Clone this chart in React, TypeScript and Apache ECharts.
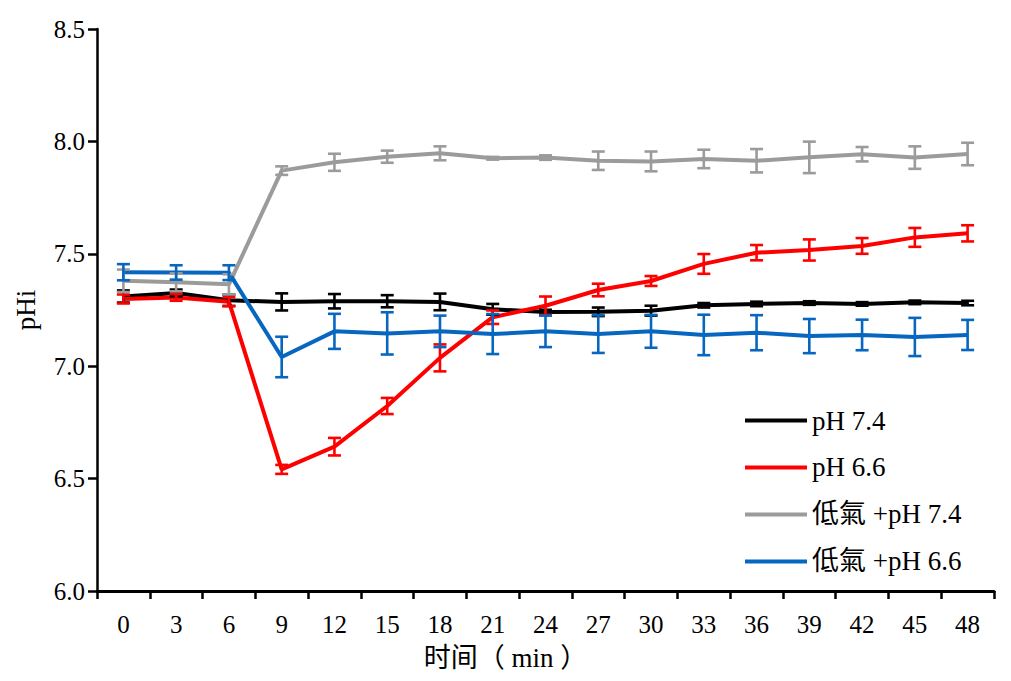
import React, { useEffect, useRef } from "react";
import * as echarts from "echarts";

const categories = ["0", "3", "6", "9", "12", "15", "18", "21", "24", "27", "30", "33", "36", "39", "42", "45", "48"];
const seriesNames = ["pH 7.4", "pH 6.6", "低氣 +pH 7.4", "低氣 +pH 6.6"];
const colors = ["#000000", "#ff0000", "#9b9b9b", "#0766bf"];

const ph74 = [7.31, 7.326, 7.293, 7.286, 7.289, 7.289, 7.286, 7.253, 7.241, 7.242, 7.247, 7.271, 7.277, 7.281, 7.277, 7.284, 7.281];
const ph74Err = [0.027, 0.015, 0.025, 0.038, 0.032, 0.027, 0.037, 0.024, 0.01, 0.019, 0.022, 0.01, 0.01, 0.008, 0.008, 0.008, 0.01];
const ph66 = [7.299, 7.306, 7.287, 6.541, 6.642, 6.823, 7.037, 7.218, 7.269, 7.339, 7.379, 7.455, 7.505, 7.517, 7.535, 7.573, 7.591];
const ph66Err = [0.02, 0.015, 0.02, 0.02, 0.039, 0.036, 0.06, 0.03, 0.041, 0.028, 0.022, 0.044, 0.034, 0.047, 0.035, 0.042, 0.036];
const hypo74 = [7.38, 7.373, 7.364, 7.87, 7.907, 7.932, 7.947, 7.925, 7.928, 7.914, 7.911, 7.922, 7.914, 7.929, 7.943, 7.928, 7.944];
const hypo74Err = [0.05, 0.04, 0.045, 0.019, 0.038, 0.027, 0.031, 0.006, 0.01, 0.041, 0.044, 0.041, 0.052, 0.07, 0.032, 0.05, 0.05];
const hypo66 = [7.418, 7.417, 7.416, 7.041, 7.155, 7.146, 7.155, 7.143, 7.155, 7.143, 7.155, 7.139, 7.149, 7.134, 7.139, 7.13, 7.139];
const hypo66Err = [0.036, 0.032, 0.033, 0.09, 0.078, 0.094, 0.07, 0.089, 0.07, 0.084, 0.073, 0.09, 0.078, 0.076, 0.068, 0.085, 0.067];

const yTicks = { min: 6.0, max: 8.5, interval: 0.5 };

const FONT = "'Liberation Serif', 'Times New Roman', 'Noto Sans CJK TC', serif";
const FONT_SC = "'Liberation Serif', 'Times New Roman', 'Noto Sans CJK SC', serif";

function errorSeries(name: string, values: number[], errs: number[], color: string) {
  return {
    type: "custom",
    name: name + " err",
    z: 3,
    silent: true,
    data: values.map((v, i) => [i, v - errs[i], v + errs[i]]),
    encode: { x: 0, y: [1, 2] },
    renderItem: (_params: any, api: any) => {
      const idx = api.value(0);
      const lo = api.coord([idx, api.value(1)]);
      const hi = api.coord([idx, api.value(2)]);
      const hw = 6.5;
      const style = { stroke: color, lineWidth: 2.6, fill: "none" };
      return {
        type: "group",
        children: [
          { type: "line", shape: { x1: lo[0], y1: lo[1], x2: hi[0], y2: hi[1] }, style },
          { type: "line", shape: { x1: lo[0] - hw, y1: lo[1], x2: lo[0] + hw, y2: lo[1] }, style },
          { type: "line", shape: { x1: hi[0] - hw, y1: hi[1], x2: hi[0] + hw, y2: hi[1] }, style },
        ],
      };
    },
  };
}

export default function App() {
  const ref = useRef<HTMLDivElement>(null);
  useEffect(() => {
    if (!ref.current) return;
    const chart = echarts.init(ref.current, undefined, { renderer: "svg" });
    const values = [ph74, ph66, hypo74, hypo66];
    const errs = [ph74Err, ph66Err, hypo74Err, hypo66Err];
    const lineSeries = seriesNames.map((n, i) => ({
      type: "line",
      name: n,
      data: values[i],
      symbol: "none",
      z: 2,
      lineStyle: { color: colors[i], width: 4 },
      itemStyle: { color: colors[i] },
    }));
    const errSeries = seriesNames.map((n, i) => errorSeries(n, values[i], errs[i], colors[i]));
    chart.setOption({
      animation: false,
      backgroundColor: "#ffffff",
      grid: { left: 97, top: 29, width: 897, height: 562, outerBoundsMode: "none", containLabel: false },
      legend: {
        data: seriesNames.map((n) => ({ name: n, icon: "rect" })),
        orient: "vertical",
        left: 740,
        top: 402,
        itemWidth: 62,
        itemHeight: 4,
        itemGap: 20,
        selectedMode: false,
        textStyle: { fontFamily: FONT, fontSize: 27, color: "#000", lineHeight: 26 },
      },
      xAxis: {
        type: "category",
        data: categories,
        boundaryGap: true,
        name: "时间（ min ）",
        nameLocation: "middle",
        nameGap: 53,
        nameTextStyle: { fontFamily: FONT_SC, fontSize: 27, color: "#000", padding: [0, 80, 0, 0] },
        axisLine: { lineStyle: { color: "#000", width: 3 } },
        axisTick: { show: true, length: 8, lineStyle: { color: "#000", width: 2.5 } },
        axisLabel: { fontFamily: FONT, fontSize: 25, color: "#000", margin: 21 },
        splitLine: { show: false },
      },
      yAxis: {
        type: "value",
        min: yTicks.min,
        max: yTicks.max,
        interval: yTicks.interval,
        name: "pHi",
        nameLocation: "middle",
        nameRotate: 90,
        nameGap: 58,
        nameTextStyle: { fontFamily: FONT, fontSize: 27, color: "#000" },
        axisLine: { show: true, lineStyle: { color: "#000", width: 2.5 } },
        axisTick: { show: true, length: 9, lineStyle: { color: "#000", width: 2.5 } },
        axisLabel: {
          fontFamily: FONT,
          fontSize: 25,
          color: "#000",
          margin: 12,
          formatter: (v: number) => v.toFixed(1),
        },
        splitLine: { show: false },
      },
      series: [...lineSeries, ...errSeries],
    });
    return () => chart.dispose();
  }, []);
  return (
    <div
      ref={ref}
      style={{ position: "fixed", left: 0, top: 0, width: 1011, height: 681, background: "#fff" }}
    />
  );
}
